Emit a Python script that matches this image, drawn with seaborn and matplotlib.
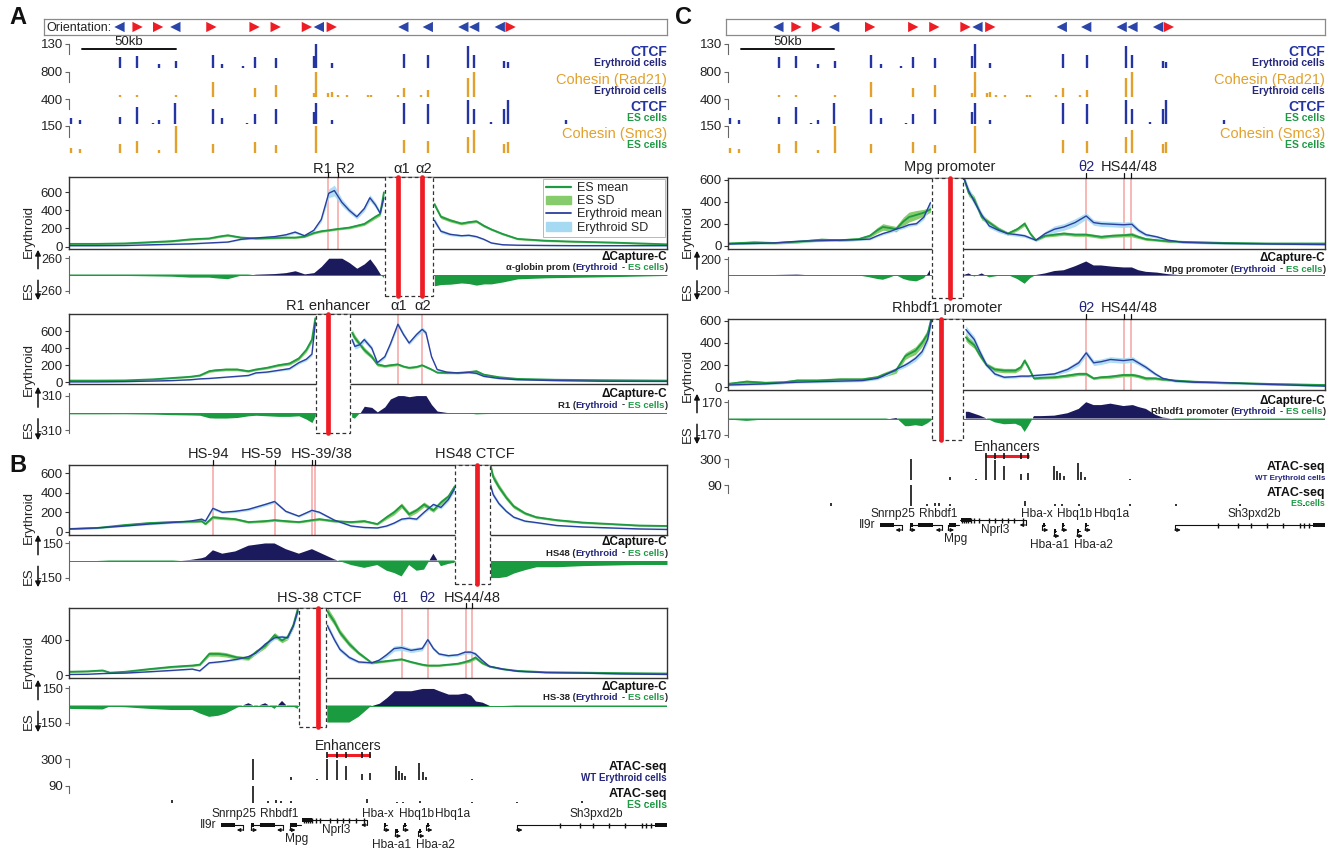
import numpy as np
import pandas as pd
import matplotlib
matplotlib.use("Agg")
import matplotlib.pyplot as plt
import matplotlib.transforms as mtransforms
from matplotlib.lines import Line2D
from matplotlib.patches import Rectangle, Patch, FancyArrowPatch
import seaborn as sns

nan = np.nan
KB = 320  # window width in kb

# ---------------- CTCF motif orientation ----------------
orient_kb = [27.0, 36.7, 47.7, 56.9, 76.2, 99.3, 110.6, 127.3, 133.7, 140.6,
             178.9, 192.0, 211.0, 216.8, 230.5, 236.3]
orient_dir = ["L", "R", "R", "L", "R", "R", "R", "R", "L", "R",
              "L", "L", "L", "L", "L", "R"]

# ---------------- ChIP-seq peaks ----------------
ctcf_ery_kb = [27.5, 36.2, 48.2, 57.1, 76.8, 81.9, 92.9, 99.3, 110.8, 131.0, 132.4, 140.6,
               179.4, 192.2, 213.3, 216.8, 232.9, 234.7]
ctcf_ery_h = [58, 65, 20, 40, 72, 20, 10, 58, 52, 65, 130, 26, 78, 72, 117, 72, 39, 33]
rad21_kb = [27.5, 36.2, 57.1, 76.8, 99.3, 110.8, 131.0, 132.4, 138.8, 140.6, 143.9, 148.5,
            160.0, 161.7, 176.0, 179.4, 188.6, 192.2, 213.3, 216.8]
rad21_h = [80, 80, 60, 480, 280, 400, 120, 800, 120, 160, 80, 70, 80, 80, 80, 280, 80, 220, 600, 800]
ctcf_es_kb = [1.1, 5.7, 27.5, 36.2, 44.7, 48.2, 56.9, 76.8, 81.9, 95.3, 99.3, 110.8, 131.0, 132.4,
              140.6, 179.4, 192.2, 213.3, 216.8, 226.0, 232.9, 234.7, 266.1]
ctcf_es_h = [100, 60, 120, 280, 20, 60, 340, 240, 100, 20, 160, 240, 200, 340, 60, 340, 320, 380,
             240, 40, 240, 380, 60]
smc3_kb = [1.1, 5.7, 27.5, 36.2, 48.2, 57.1, 76.8, 99.3, 110.8, 132.4, 179.4, 192.2, 213.3, 216.8,
           232.9, 234.7]
smc3_h = [30, 22, 52, 68, 15, 150, 52, 63, 45, 150, 75, 68, 90, 128, 52, 60]

# ---------------- Capture-C profiles ----------------
a1_kb = [0, 15, 30, 45, 55, 65, 75, 80, 85, 92, 100, 110, 116, 121, 126, 131, 135, 139, 142, 146, 150, 154, 158, 161, 164, 166.5, 168.5,
         nan, 195.5, 199, 204, 210, 214, 218, 222, 226, 232, 240, 255, 270, 290, 305, 320]
a1_es = [30, 30, 35, 50, 60, 80, 90, 110, 125, 100, 90, 95, 100, 100, 110, 150, 170, 180, 190, 200, 210, 230, 250, 290, 330, 360, 600,
         nan, 470, 330, 290, 255, 270, 280, 230, 190, 140, 85, 65, 55, 45, 35, 25]
a1_es_sd = [8, 8, 8, 10, 10, 10, 10, 12, 12, 10, 10, 10, 10, 10, 10, 12, 12, 12, 12, 12, 14, 15, 16, 18, 20, 20, 30,
            nan, 25, 20, 18, 15, 15, 15, 15, 12, 12, 10, 10, 8, 8, 8, 8]
a1_ery = [10, 10, 12, 20, 25, 30, 40, 45, 50, 80, 95, 110, 130, 160, 120, 180, 300, 590, 620, 490, 400, 330, 420, 540, 460, 370, 540,
          nan, 290, 170, 135, 120, 125, 110, 80, 40, 20, 15, 12, 10, 10, 10, 10]
a1_ery_sd = [5, 5, 5, 5, 5, 6, 6, 6, 6, 8, 8, 10, 12, 15, 12, 15, 25, 50, 60, 40, 30, 25, 30, 35, 30, 25, 40,
             nan, 30, 20, 15, 12, 12, 12, 10, 8, 5, 5, 5, 5, 5, 5, 5]

a2_kb = [0, 15, 30, 45, 55, 65, 70, 75, 78, 84, 90, 96, 100, 106, 112, 118, 123, 127, 130, 131.8,
         nan, 151.5, 153, 155.5, 158, 162, 165, 169, 172, 176, 179, 182, 186, 189, 191, 194, 197, 202, 208, 214, 218, 222, 230, 240, 260, 285, 320]
a2_es = [20, 20, 22, 35, 50, 65, 80, 130, 140, 150, 150, 130, 150, 170, 200, 220, 280, 380, 500, 750,
         nan, 580, 520, 450, 380, 300, 210, 190, 200, 210, 185, 170, 180, 200, 180, 150, 115, 110, 110, 120, 130, 90, 60, 40, 30, 25, 20]
a2_es_sd = [6, 6, 6, 8, 8, 10, 10, 15, 15, 15, 15, 12, 12, 14, 15, 18, 20, 25, 30, 35,
            nan, 40, 35, 30, 30, 25, 20, 15, 15, 15, 12, 12, 12, 12, 12, 10, 10, 10, 10, 12, 15, 10, 8, 6, 6, 6, 6]
a2_ery = [5, 5, 8, 15, 20, 30, 40, 45, 50, 60, 70, 80, 110, 120, 140, 160, 230, 270, 330, 700,
          nan, 500, 420, 440, 500, 400, 230, 300, 450, 680, 560, 460, 560, 620, 580, 300, 150, 120, 110, 115, 105, 70, 45, 30, 20, 12, 10]
a2_ery_sd = [3, 3, 3, 4, 4, 5, 5, 5, 6, 6, 8, 8, 10, 10, 12, 14, 16, 18, 20, 40,
             nan, 35, 30, 30, 30, 25, 20, 20, 25, 30, 25, 20, 25, 30, 25, 15, 10, 10, 10, 10, 10, 8, 6, 5, 4, 3, 3]

b1_kb = [0, 15, 30, 43, 55, 65, 71, 73, 77, 82, 89, 96, 105, 110, 116, 123, 130, 134, 142, 151, 158, 165, 170, 174, 178, 182, 186, 190, 195, 199, 203, 206.3,
         nan, 225.5, 227, 230, 234, 238, 244, 250, 261, 275, 290, 305, 320]
b1_es = [30, 40, 70, 90, 100, 105, 110, 80, 150, 140, 130, 100, 110, 120, 110, 100, 120, 130, 110, 100, 110, 80, 150, 200, 270, 180, 220, 280, 220, 300, 360, 460,
         nan, 680, 560, 460, 350, 260, 190, 150, 120, 95, 80, 65, 60]
b1_es_sd = [6, 8, 10, 12, 12, 12, 12, 10, 15, 15, 12, 12, 12, 12, 12, 10, 12, 12, 12, 12, 12, 10, 20, 25, 25, 25, 25, 25, 20, 25, 25, 30,
            nan, 40, 35, 30, 25, 20, 15, 12, 10, 10, 8, 8, 8]
b1_ery = [30, 40, 60, 80, 95, 110, 130, 110, 240, 200, 210, 230, 280, 310, 210, 160, 220, 200, 120, 60, 45, 40, 60, 90, 130, 140, 130, 200, 280, 250, 330, 440,
          nan, 480, 380, 290, 210, 150, 110, 95, 65, 50, 40, 30, 25]
b1_ery_sd = [5, 6, 6, 8, 8, 8, 10, 10, 15, 12, 12, 14, 15, 15, 12, 10, 12, 12, 10, 8, 6, 6, 8, 10, 12, 12, 12, 15, 15, 15, 20, 25,
             nan, 30, 25, 20, 15, 12, 10, 8, 6, 5, 5, 5, 5]

b2_kb = [0, 10, 18, 22, 30, 43, 55, 66, 70, 75, 80, 84, 90, 96, 100, 105, 110, 114, 117, 120, 122.5,
         nan, 138.2, 142, 145, 150, 155, 162, 166, 170, 174, 178, 183, 189, 192, 195, 198, 203, 208, 212, 215, 217.5, 221, 225, 232, 240, 255, 275, 295, 320]
b2_es = [40, 45, 55, 30, 40, 70, 95, 110, 120, 240, 240, 230, 200, 190, 260, 330, 450, 390, 430, 560, 750,
         nan, 720, 600, 480, 350, 250, 140, 150, 160, 170, 180, 150, 120, 110, 110, 110, 120, 130, 150, 170, 200, 140, 100, 70, 50, 35, 30, 25, 20]
b2_es_sd = [8, 8, 10, 8, 8, 10, 12, 12, 12, 25, 25, 25, 20, 20, 25, 25, 30, 25, 30, 35, 40,
            nan, 45, 40, 35, 30, 20, 12, 12, 12, 12, 12, 12, 12, 12, 12, 10, 10, 12, 15, 20, 20, 15, 10, 8, 8, 6, 6, 6, 6]
b2_ery = [10, 12, 20, 22, 25, 40, 55, 70, 50, 140, 150, 160, 180, 210, 250, 350, 420, 430, 420, 550, 720,
          nan, 560, 400, 290, 200, 150, 140, 170, 230, 300, 310, 280, 300, 400, 300, 240, 220, 230, 260, 260, 240, 170, 100, 70, 45, 30, 25, 15, 10]
b2_ery_sd = [4, 4, 4, 4, 4, 5, 6, 6, 6, 10, 10, 10, 12, 14, 15, 18, 20, 20, 20, 25, 30,
             nan, 30, 30, 25, 20, 15, 12, 15, 25, 30, 30, 25, 25, 25, 20, 15, 15, 15, 20, 20, 20, 15, 10, 8, 6, 5, 4, 4, 3]

c1_kb = [0, 14, 25, 37, 50, 60, 70, 76, 80, 83, 87, 90, 94, 97, 101, 105, 108.5,
         nan, 126.3, 129, 132, 136, 140, 145, 150, 155, 159, 162, 165, 170, 175, 180, 186, 192, 196, 200, 206, 212, 216.5, 220, 224, 230, 236, 244, 255, 267, 290, 320]
c1_es = [20, 30, 25, 35, 55, 50, 60, 90, 140, 170, 160, 150, 220, 260, 280, 300, 330,
         nan, 620, 480, 420, 260, 210, 150, 110, 150, 200, 110, 50, 90, 100, 110, 100, 100, 90, 80, 90, 95, 100, 80, 60, 50, 40, 35, 30, 25, 20, 20]
c1_es_sd = [10, 12, 10, 12, 12, 12, 12, 15, 25, 30, 25, 25, 40, 45, 40, 30, 25,
            nan, 30, 30, 30, 25, 20, 20, 15, 15, 20, 15, 10, 12, 15, 15, 15, 15, 15, 15, 15, 15, 20, 15, 12, 10, 10, 10, 10, 10, 8, 8]
c1_ery = [15, 20, 25, 40, 45, 50, 55, 60, 90, 110, 130, 150, 170, 190, 200, 260, 390,
          nan, 620, 500, 400, 280, 180, 140, 110, 100, 90, 70, 50, 110, 150, 170, 210, 270, 210, 200, 195, 190, 195, 140, 100, 80, 50, 30, 25, 20, 15, 10]
c1_ery_sd = [6, 6, 6, 8, 8, 8, 8, 8, 10, 12, 12, 14, 15, 15, 15, 20, 25,
             nan, 30, 30, 30, 25, 20, 20, 15, 15, 15, 12, 10, 20, 30, 30, 35, 30, 25, 25, 25, 25, 25, 20, 15, 12, 10, 8, 8, 6, 6, 6]

c2_kb = [0, 10, 20, 30, 37, 48, 60, 72, 80, 83, 90, 95, 97, 100.5, 104, 107, 109,
         nan, 127.5, 129, 132, 135, 138.6, 143, 148, 154, 157, 159, 161, 164, 168, 175, 182, 188, 192, 196, 200, 205, 212, 217, 220, 224, 229, 233, 240, 250, 267, 290, 320]
c2_es = [30, 50, 40, 45, 60, 60, 70, 70, 90, 110, 150, 280, 300, 330, 400, 480, 620,
         nan, 450, 420, 380, 290, 200, 160, 150, 150, 180, 240, 180, 80, 85, 90, 105, 120, 120, 80, 90, 95, 110, 110, 100, 80, 80, 70, 60, 50, 40, 30, 20]
c2_es_sd = [12, 15, 12, 12, 15, 15, 15, 15, 15, 20, 25, 30, 30, 35, 35, 40, 40,
            nan, 35, 30, 30, 25, 20, 20, 20, 20, 20, 20, 20, 12, 12, 12, 15, 15, 15, 12, 12, 15, 15, 15, 15, 15, 12, 10, 10, 10, 10, 10, 8]
c2_ery = [20, 25, 30, 40, 45, 50, 55, 60, 80, 100, 160, 200, 220, 260, 320, 430, 600,
          nan, 520, 490, 430, 320, 200, 120, 90, 95, 100, 100, 100, 105, 110, 120, 160, 220, 310, 220, 230, 250, 240, 250, 220, 180, 120, 80, 55, 45, 40, 25, 10]
c2_ery_sd = [8, 8, 8, 8, 8, 10, 10, 10, 12, 12, 15, 20, 20, 25, 25, 30, 40,
             nan, 35, 30, 30, 25, 20, 15, 12, 12, 12, 12, 12, 12, 12, 15, 20, 25, 25, 25, 25, 25, 25, 25, 20, 20, 15, 12, 10, 8, 8, 6, 5]

# ---------------- ATAC-seq ----------------
atac_ery_kb = [98.3, 119.0, 132.8, 138.1, 143.2, 148.2, 157.0, 160.9, 175.0, 176.6, 178.2, 180.0, 187.4, 189.2, 191.1, 215.7]
atac_ery_h = [300, 50, 15, 300, 280, 200, 80, 100, 200, 130, 100, 60, 250, 110, 50, 15]
atac_es_kb = [55.2, 98.3, 106.4, 111.0, 113.3, 119.0, 159.3, 175.4, 178.9, 188.0, 215.7, 239.9, 274.4, 309.0]
atac_es_h = [14, 90, 9, 14, 11, 9, 22, 7, 7, 9, 7, 7, 9, 5]
enhancer_kb = [138.1, 143.2, 148.2, 157.0, 160.9]

# ---------------- genes ----------------
gene_names = ["Il9r", "Snrnp25", "Rhbdf1", "Mpg", "Nprl3", "Hba-x", "Hba-a1", "Hbq1b", "Hba-a2", "Hbq1a", "Sh3pxd2b"]
gene_start = [81.5, 97.5, 101.5, 118.0, 124.5, 168.5, 174.5, 178.8, 187.0, 191.3, 239.5]
gene_end = [93.0, 102.5, 114.5, 124.0, 159.5, 170.0, 176.0, 180.3, 188.5, 192.8, 320.0]
gene_cds_start = [81.5, 97.5, 102.0, 118.5, 124.8, 168.7, 174.7, 179.0, 187.2, 191.5, 313.5]
gene_cds_end = [89.0, 99.0, 110.0, 122.0, 130.0, 169.8, 175.8, 180.1, 188.3, 192.6, 320.0]
gene_strand = ["-", "+", "-", "+", "-", "+", "+", "+", "+", "+", "+"]
gene_label_kb = [79.0, 88.5, 112.5, 122.0, 143.0, 165.5, 172.5, 186.0, 196.0, 205.5, 282.0]
nprl3_exons = [125.5, 126.6, 127.7, 128.9, 130.0, 132.1, 134.4, 139.7, 143.2, 146.6, 150.1, 153.5, 158.1]
sh3_exons = [262.9, 273.2, 280.2, 288.7, 297.4, 306.6, 308.9, 311.2]

# ---------------- style ----------------
CTCF_BLUE = "#2435A3"
COH = "#E2A12C"
NAVY = "#23267A"
GREEN = "#1E9A45"
ES_SD = "#86CB6C"
ERY_BLUE = "#2C3E9E"
ERY_SD = "#A6DAF3"
DPOS = "#1B1A5C"
DNEG = "#1A9B3F"
RED = "#EE1C25"
PINK = "#F5A3A3"
ARROW_BLUE = "#2B45A8"
DARK = "#222222"

sns.set_theme(style="white")
plt.rcParams["font.family"] = ["Liberation Sans", "DejaVu Sans"]

W, H = 1342, 850
fig = plt.figure(figsize=(W / 100, H / 100), dpi=100)
COL_AB = (69, 667)
COL_C = (728, 1325)


def fy(y):
    return 1 - y / H


def px_axes(x0, y0, x1, y1):
    return fig.add_axes([x0 / W, 1 - y1 / H, (x1 - x0) / W, (y1 - y0) / H])


def ptext(x, y, s, **kw):
    kw.setdefault("va", "center")
    return fig.text(x / W, fy(y), s, **kw)


def right_pieces(x, y, pieces, gaps, size):
    renderer = fig.canvas.get_renderer()
    for i in range(len(pieces) - 1, -1, -1):
        txt, col = pieces[i]
        t = ptext(x, y, txt, color=col, ha="right", fontsize=size, fontweight="bold")
        bb = t.get_window_extent(renderer)
        x = bb.x0 - (gaps[i - 1] if i > 0 else 0)


def bracket(ax, ticks, labels, frac=0.6, full=False, size=9.5):
    for s in ["top", "right", "bottom"]:
        ax.spines[s].set_visible(False)
    ax.spines["left"].set_color("#666")
    ax.spines["left"].set_linewidth(0.8)
    if not full:
        top = ax.get_ylim()[1]
        ax.spines["left"].set_bounds(top * frac, ticks[0])
    ax.set_xticks([])
    ax.set_yticks(ticks)
    ax.set_yticklabels(labels)
    ax.tick_params(axis="y", left=True, direction="out", length=3, width=0.8, pad=1.5,
                   labelsize=size, color="#666", labelcolor=DARK)


def orientation(x0, x1, col, with_text):
    ax = px_axes(x0, 19, x1, 35)
    tx0, tx1 = col
    per_px = KB / (tx1 - tx0)
    ax.set_xlim((x0 - tx0) * per_px, (x1 - tx0) * per_px)
    ax.set_ylim(-1, 1)
    df = pd.DataFrame({"kb": orient_kb, "y": 0.0, "dir": orient_dir})
    sns.scatterplot(data=df, x="kb", y="y", hue="dir", style="dir",
                    markers={"L": "<", "R": ">"}, palette={"L": ARROW_BLUE, "R": RED},
                    s=55, linewidth=0, legend=False, ax=ax)
    ax.set_xticks([]); ax.set_yticks([]); ax.set_xlabel(""); ax.set_ylabel("")
    for s in ax.spines.values():
        s.set_color("#8a8a8a"); s.set_linewidth(0.9)
    if with_text:
        ax.text(0.004, 0.45, "Orientation:", transform=ax.transAxes, ha="left", va="center", fontsize=9, color=DARK)


def chip_track(col, y0, y1, pos, hts, ymax, color, lw, name, name_kw, cells, cells_color, cells_size=7.5):
    tx0, tx1 = col
    ax = px_axes(tx0, y0, tx1, y1)
    ax.axhline(ymax * 0.012, color=color, lw=0.7, alpha=0.6)
    ax.vlines(pos, 0, hts, color=color, lw=lw)
    ax.set_xlim(0, KB)
    ax.set_ylim(0, ymax)
    bracket(ax, [ymax], [str(ymax)])
    ptext(tx1, y0 + 8, name, ha="right", **name_kw)
    ptext(tx1, y0 + 19, cells, color=cells_color, fontsize=cells_size, fontweight="bold", ha="right")
    return ax


def top_tracks(col):
    ctcf_kw = dict(color=CTCF_BLUE, fontsize=10, fontweight="bold")
    coh_kw = dict(color=COH, fontsize=10.5)
    ax = chip_track(col, 44, 68, ctcf_ery_kb, ctcf_ery_h, 130, CTCF_BLUE, 1.7, "CTCF", ctcf_kw, "Erythroid cells", NAVY)
    T = mtransforms.blended_transform_factory(ax.transData, fig.transFigure)
    fig.add_artist(Line2D([7, 57], [fy(49), fy(49)], transform=T, color="#111", lw=1.4))
    fig.text(32, fy(42), "50kb", transform=T, ha="center", va="center", fontsize=9.5, color=DARK)
    chip_track(col, 72, 97, rad21_kb, rad21_h, 800, COH, 1.7, "Cohesin (Rad21)", coh_kw, "Erythroid cells", NAVY)
    chip_track(col, 99, 124, ctcf_es_kb, ctcf_es_h, 400, CTCF_BLUE, 1.7, "CTCF", ctcf_kw, "ES cells", GREEN)
    chip_track(col, 126, 153, smc3_kb, smc3_h, 150, COH, 1.7, "Cohesin (Smc3)", coh_kw, "ES cells", GREEN)


def side_arrows(tx0, dy0, dy1):
    zero = (dy0 + dy1) / 2
    x_t, x_a = tx0 - 40, tx0 - 31
    ptext(x_t, zero - 17, "Erythroid", rotation=90, rotation_mode="anchor", ha="left", fontsize=9.5, color=DARK)
    ptext(x_t, zero + 7, "ES", rotation=90, rotation_mode="anchor", ha="right", fontsize=9.5, color=DARK)
    for a, b in [(zero - 3, dy0 - 6), (zero + 3, dy1 + 7)]:
        fig.add_artist(FancyArrowPatch((x_a / W, fy(a)), (x_a / W, fy(b)), transform=fig.transFigure,
                                       arrowstyle="-|>", mutation_scale=8, lw=1.1, color="#111"))


def draw_block(col, prof_y, delta_y, box_bot, label_y, data, ylim, yticks, dlim, excl, vps,
               pinks, labels, sub, legend=False):
    tx0, tx1 = col
    kb, es, es_sd, ery, ery_sd = [np.array(v, dtype=float) for v in data]
    cut = int(np.where(np.isnan(es))[0][0])
    parts = [slice(0, cut), slice(cut + 1, None)]

    pax = px_axes(tx0, prof_y[0], tx1, prof_y[1])
    for p in pinks:
        pax.axvline(p, color=PINK, lw=1.1, zorder=0.5)
    for sl in parts:
        pax.fill_between(kb[sl], es[sl] - es_sd[sl], es[sl] + es_sd[sl], color=ES_SD, lw=0, zorder=1)
        pax.fill_between(kb[sl], ery[sl] - ery_sd[sl], ery[sl] + ery_sd[sl], color=ERY_SD, lw=0, alpha=0.9, zorder=1.1)
        sns.lineplot(x=kb[sl], y=es[sl], ax=pax, color=GREEN, lw=1.3, estimator=None, sort=False, zorder=2)
        sns.lineplot(x=kb[sl], y=ery[sl], ax=pax, color=ERY_BLUE, lw=1.0, estimator=None, sort=False, zorder=2.1)
    pax.set_xlim(0, KB)
    pax.set_ylim(*ylim)
    pax.set_xticks([])
    pax.set_yticks(yticks)
    pax.set_xlabel(""); pax.set_ylabel("")
    pax.tick_params(axis="y", left=True, direction="out", length=3, width=0.8, pad=1.5,
                    labelsize=9.5, color="#333", labelcolor=DARK)
    for s in pax.spines.values():
        s.set_color("#333"); s.set_linewidth(1.0)

    if legend:
        handles = [Line2D([], [], color=GREEN, lw=1.6), Patch(color=ES_SD),
                   Line2D([], [], color=ERY_BLUE, lw=1.3), Patch(color=ERY_SD)]
        leg = pax.legend(handles, ["ES mean", "ES SD", "Erythroid mean", "Erythroid SD"], loc="upper right",
                         fontsize=9, frameon=True, fancybox=False, edgecolor="#999", borderpad=0.25,
                         labelspacing=0.1, handlelength=2.0, handletextpad=0.5, borderaxespad=0.15)
        leg.get_frame().set_linewidth(0.6)

    dax = px_axes(tx0, delta_y[0], tx1, delta_y[1])
    diff = np.clip(ery - es, -dlim, dlim)
    dax.axhline(0, color=DNEG, lw=0.7)
    for sl in parts:
        x, d = kb[sl], diff[sl]
        dax.fill_between(x, 0, d, where=d >= 0, interpolate=True, color=DPOS, lw=0)
        dax.fill_between(x, 0, d, where=d <= 0, interpolate=True, color=DNEG, lw=0)
    dax.set_xlim(0, KB)
    lim = dlim * 1.32
    dax.set_ylim(-lim, lim)
    bracket(dax, [dlim, -dlim], [str(dlim), f"-{dlim}"], full=True, size=9)
    dax.spines["left"].set_bounds(-dlim * 1.15, dlim * 1.15)
    side_arrows(tx0, delta_y[0], delta_y[1])

    T = mtransforms.blended_transform_factory(pax.transData, fig.transFigure)
    fig.add_artist(Rectangle((excl[0], fy(box_bot)), excl[1] - excl[0], (box_bot - prof_y[0]) / H,
                             transform=T, facecolor="white", edgecolor="#333", lw=0.9,
                             ls=(0, (3, 2.2)), zorder=5))
    for v in vps:
        fig.add_artist(Line2D([v, v], [fy(prof_y[0]), fy(box_bot)], transform=T, color=RED, lw=3.4, zorder=6))
    for text, xkb, color, ticks in labels:
        fig.text(xkb, fy(label_y), text, transform=T, ha="center", va="center", fontsize=10.5, color=color)
        for t in ticks:
            fig.add_artist(Line2D([t, t], [fy(prof_y[0]), fy(prof_y[0] - 5)], transform=T, color="#111", lw=0.9))

    ptext(tx1, delta_y[0] + 4, "\u0394Capture-C", ha="right", fontsize=8.5, fontweight="bold", color="#111")
    right_pieces(tx1, delta_y[0] + 15,
                 [(sub + " (", DARK), ("Erythroid", NAVY), ("-", DARK), ("ES cells", GREEN), (")", DARK)],
                 [0, 3, 3, 0], 6.8)


def atac_and_genes(col, y_enh, y_ery, y_es, y_gene, small):
    tx0, tx1 = col
    # enhancer bar
    eax = px_axes(tx0, y_enh - 14, tx1, y_enh + 4)
    eax.set_xlim(0, KB); eax.set_ylim(18, 0); eax.axis("off")
    eax.plot([enhancer_kb[0] - 0.3, enhancer_kb[-1] + 0.3], [14, 14], color=RED, lw=2.2, solid_capstyle="butt")
    eax.plot(enhancer_kb, [14] * len(enhancer_kb), ls="none", marker="|", ms=5, mew=1.2, color="#111")
    eax.text(np.mean([enhancer_kb[0], enhancer_kb[-1]]), 5, "Enhancers", ha="center", va="center", fontsize=10, color=DARK)

    sub_size = 5.8 if small else 7
    name_kw = dict(color="#111", fontsize=9, fontweight="bold")
    chip_track(col, y_ery[0], y_ery[1], atac_ery_kb, atac_ery_h, 300, "#111", 1.2, "ATAC-seq", name_kw,
               "WT Erythroid cells", NAVY, sub_size)
    chip_track(col, y_es[0], y_es[1], atac_es_kb, atac_es_h, 90, "#111", 1.2, "ATAC-seq", name_kw,
               "ES cells", GREEN, sub_size + 0.5)

    gax = px_axes(tx0, y_gene, tx1, y_gene + 45)
    gax.set_xlim(0, KB); gax.set_ylim(45, 0); gax.axis("off")
    base = 20
    row_off = {"Nprl3": -5, "Hba-a1": 6, "Hba-a2": 6}
    label_dy = {"Il9r": 0, "Mpg": 14, "Nprl3": 5, "Hba-a1": 20, "Hba-a2": 20}
    for i, name in enumerate(gene_names):
        yy = base + row_off.get(name, 0)
        gax.plot([gene_start[i], gene_end[i]], [yy, yy], color="#111", lw=0.8)
        gax.add_patch(Rectangle((gene_cds_start[i], yy - 2.2), gene_cds_end[i] - gene_cds_start[i], 4.4,
                                color="#111", lw=0))
        if gene_strand[i] == "+":
            x0, x1 = gene_start[i], gene_start[i] + 3.2
        else:
            x0, x1 = gene_end[i], gene_end[i] - 3.2
        gax.plot([x0, x0], [yy, yy + 5], color="#111", lw=0.8)
        gax.annotate("", xy=(x1, yy + 5), xytext=(x0, yy + 5),
                     arrowprops=dict(arrowstyle="-|>", lw=0.8, color="#111", mutation_scale=5,
                                     shrinkA=0, shrinkB=0))
        dy = label_dy.get(name, -11)
        ha = "right" if name == "Il9r" else "center"
        gax.text(gene_label_kb[i], base + dy, name, ha=ha, va="center", fontsize=8.6, color=DARK)
    gax.vlines(nprl3_exons, base - 5 - 2.5, base - 5 + 2.5, color="#111", lw=1.0)
    gax.vlines(sh3_exons, base - 2.5, base + 2.5, color="#111", lw=1.0)


# ---------------- panel A / C top tracks ----------------
orientation(44, 667, COL_AB, True)
orientation(726, 1325, COL_C, False)
top_tracks(COL_AB)
top_tracks(COL_C)

# ---------------- Capture-C blocks ----------------
draw_block(COL_AB, (177, 249), (253, 296), 296, 169,
           (a1_kb, a1_es, a1_es_sd, a1_ery, a1_ery_sd), (-27, 770), [0, 200, 400, 600], 260,
           (169.0, 194.7), [175.9, 189.0], [138.6, 143.7],
           [("R1 R2", 141.8, DARK, [138.6, 143.7]), ("\u03b11", 178.0, DARK, []), ("\u03b12", 190.0, DARK, [])],
           "\u03b1-globin prom", legend=True)
draw_block(COL_AB, (314, 384), (390, 436), 433, 306,
           (a2_kb, a2_es, a2_es_sd, a2_ery, a2_ery_sd), (-20, 800), [0, 200, 400, 600], 310,
           (132.2, 150.6), [138.4], [175.9, 189.0],
           [("R1 enhancer", 138.4, DARK, []), ("\u03b11", 176.3, DARK, []), ("\u03b12", 189.0, DARK, [])],
           "R1")
draw_block(COL_AB, (465, 535), (538, 583), 584, 454,
           (b1_kb, b1_es, b1_es_sd, b1_ery, b1_ery_sd), (-32, 683), [0, 200, 400, 600], 150,
           (206.7, 225.1), [218.2], [76.8, 110.5, 130.0, 131.5],
           [("HS-94", 74.5, DARK, [76.8]), ("HS-59", 103.0, DARK, [110.5]), ("HS-39/38", 135.0, DARK, [130.0, 131.5]),
            ("HS48 CTCF", 217.0, DARK, [])],
           "HS48")
draw_block(COL_AB, (608, 678), (683, 728), 727, 598,
           (b2_kb, b2_es, b2_es_sd, b2_ery, b2_ery_sd), (-30, 755), [0, 400], 150,
           (123.0, 137.7), [133.1], [178.2, 192.0, 212.4, 215.9],
           [("HS-38 CTCF", 133.8, DARK, []), ("\u03b81", 177.5, NAVY, []), ("\u03b82", 191.7, NAVY, []),
            ("HS44/48", 215.9, DARK, [212.4, 215.9])],
           "HS-38")
draw_block(COL_C, (178, 249), (254, 296), 298, 167,
           (c1_kb, c1_es, c1_es_sd, c1_ery, c1_ery_sd), (-30, 615), [0, 200, 400, 600], 200,
           (109.1, 125.9), [119.0], [192.0, 212.2, 216.2],
           [("Mpg promoter", 119.0, DARK, []), ("\u03b82", 192.0, NAVY, [192.0]), ("HS44/48", 215.0, DARK, [212.2, 216.2])],
           "Mpg promoter")
draw_block(COL_C, (319, 390), (397, 440), 440, 308,
           (c2_kb, c2_es, c2_es_sd, c2_ery, c2_ery_sd), (-25, 615), [0, 200, 400, 600], 170,
           (109.1, 125.9), [114.4], [192.0, 212.2, 216.2],
           [("Rhbdf1 promoter", 117.5, DARK, []), ("\u03b82", 192.0, NAVY, [192.0]), ("HS44/48", 215.0, DARK, [212.2, 216.2])],
           "Rhbdf1 promoter")

# ---------------- ATAC + genes ----------------
atac_and_genes(COL_AB, 755, (759, 780), (786, 803), 805, small=False)
atac_and_genes(COL_C, 456, (459, 480), (485, 506), 505, small=True)

# ---------------- panel letters ----------------
ptext(18, 18, "A", fontsize=17, fontweight="bold", ha="center", color="#111")
ptext(18, 466, "B", fontsize=17, fontweight="bold", ha="center", color="#111")
ptext(684, 18, "C", fontsize=17, fontweight="bold", ha="center", color="#111")

fig.savefig("out.png", dpi=100)
